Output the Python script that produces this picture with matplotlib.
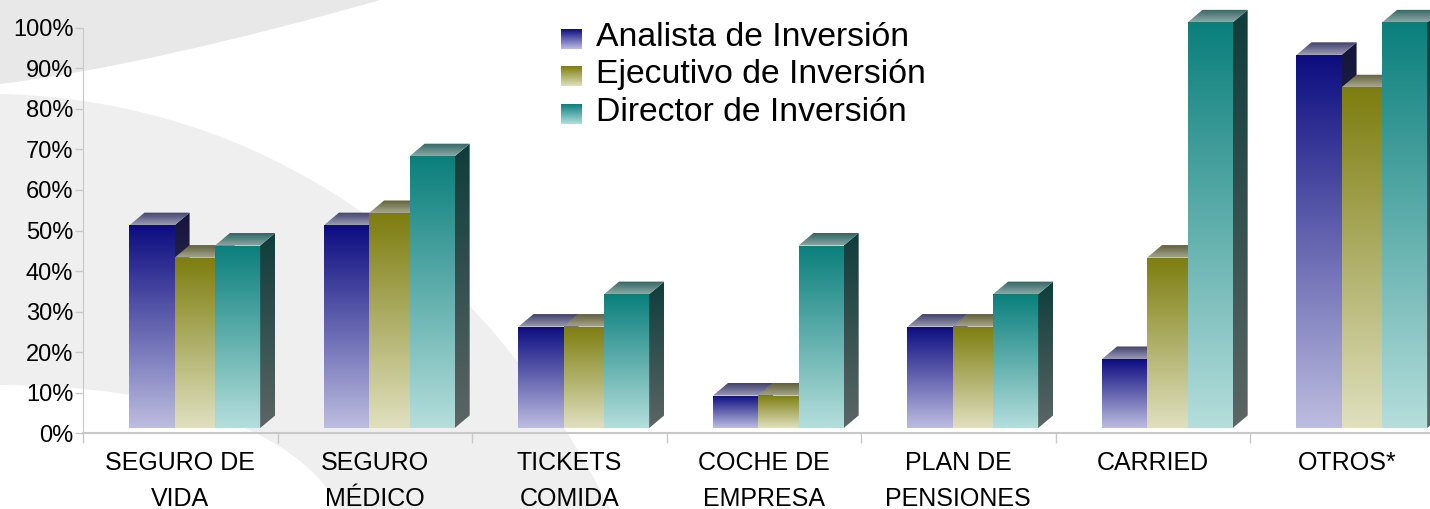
import numpy as np
import matplotlib
matplotlib.use('Agg')
import matplotlib.pyplot as plt
from matplotlib.patches import Polygon, PathPatch
from matplotlib.path import Path
from matplotlib.colors import LinearSegmentedColormap

plt.rcParams['font.family'] = ['Liberation Sans', 'DejaVu Sans']

# data (percent of respondents)
categories = ['SEGURO DE\nVIDA', 'SEGURO\nMÉDICO', 'TICKETS\nCOMIDA', 'COCHE DE\nEMPRESA',
              'PLAN DE\nPENSIONES', 'CARRIED', 'OTROS*']
series = ['Analista de Inversión', 'Ejecutivo de Inversión', 'Director de Inversión']
analista = [50, 50, 25, 8, 25, 17, 92]
ejecutivo = [42, 53, 25, 8, 25, 42, 84]
director = [45, 67, 33, 45, 33, 100, 100]
yticks = [0, 10, 20, 30, 40, 50, 60, 70, 80, 90, 100]

# (front top, front bottom), (side top, side bottom), (roof back, roof front)
STYLE = [
    (('#0c0c80', '#bdbde0'), ('#14143c', '#555570'), ('#40406e', '#9c9cb4')),
    (('#7d7d0f', '#e0e0c0'), ('#3e3e10', '#60604c'), ('#60603a', '#a8a890')),
    (('#0a7f7c', '#b5dedc'), ('#0e3d3b', '#5c6665'), ('#2e6664', '#90a8a6')),
]
OFF = [0.239, 0.471, 0.679]   # left edge of each bar inside its group
W = 0.232
DX, DY = 0.077, 3.1           # 3-D depth offsets
FLOOR = 1.3
GRID = '#c8c8c8'

W_PX, H_PX = 1430, 509
fig = plt.figure(figsize=(W_PX / 100, H_PX / 100), dpi=100)
fig.patch.set_facecolor('white')

# ---------------------------------------------------------------- background swoosh
bg = fig.add_axes([0, 0, 1, 1], zorder=0)
bg.set_xlim(0, W_PX)
bg.set_ylim(H_PX, 0)
bg.axis('off')
C, L, M, Z = Path.CURVE4, Path.LINETO, Path.MOVETO, Path.CLOSEPOLY
band1 = Path([(0, 0), (380, 0), (240, 40), (100, 72), (0, 84), (0, 0)],
             [M, L, C, C, C, Z])
band2 = Path([(0, 94), (260, 100), (480, 250), (610, 509), (340, 509),
              (300, 430), (170, 385), (0, 385), (0, 94)],
             [M, C, C, C, L, C, C, C, Z])
bg.add_patch(PathPatch(band1, fc='#e8e8e8', ec='none'))
bg.add_patch(PathPatch(band2, fc='#efefef', ec='none'))


def gradient(ax, clip, x0, x1, y_lo, y_hi, c_lo, c_hi, z):
    cmap = LinearSegmentedColormap.from_list('g', [c_lo, c_hi])
    im = ax.imshow(np.linspace(0, 1, 256).reshape(-1, 1), cmap=cmap,
                   extent=(x0, x1, y_lo, y_hi), origin='lower', aspect='auto',
                   interpolation='bilinear', zorder=z)
    if clip is not None:
        im.set_clip_path(clip)
    return im


# ---------------------------------------------------------------- main axes
YTOP = 433.3 / 4.056
ax = fig.add_axes([83 / W_PX, (H_PX - 433.3) / H_PX, 7 * 194.5 / W_PX, 433.3 / H_PX], zorder=1)
ax.set_facecolor('none')

z = 2.0
for g in range(len(categories)):
    for j, vals in enumerate([analista, ejecutivo, director]):
        (f_hi, f_lo), (s_hi, s_lo), (r_back, r_front) = STYLE[j]
        v = vals[g]
        bar = ax.bar(g + OFF[j], v, width=W, bottom=FLOOR, align='edge',
                     color='none', edgecolor='none', zorder=z)[0]
        xl = bar.get_x()
        xr = xl + bar.get_width()
        top = FLOOR + bar.get_height()
        gradient(ax, bar, xl, xr, FLOOR, top, f_lo, f_hi, z)
        z += 0.01
        side = Polygon([(xr, FLOOR), (xr + DX, FLOOR + DY), (xr + DX, top + DY), (xr, top)],
                       closed=True, fc='none', ec='none', zorder=z)
        ax.add_patch(side)
        gradient(ax, side, xr, xr + DX, FLOOR, top + DY, s_lo, s_hi, z)
        z += 0.01
        roof = Polygon([(xl, top), (xr, top), (xr + DX, top + DY), (xl + DX, top + DY)],
                       closed=True, fc='none', ec='none', zorder=z)
        ax.add_patch(roof)
        gradient(ax, roof, xl, xr + DX, top, top + DY, r_front, r_back, z)
        z += 0.01

ax.set_xlim(0, len(categories))
ax.set_ylim(0, YTOP)

for s in ('top', 'right'):
    ax.spines[s].set_visible(False)
ax.spines['left'].set_bounds(0, 100)
ax.spines['left'].set_color(GRID)
ax.spines['bottom'].set_color(GRID)
ax.spines['bottom'].set_linewidth(1.5)

ax.set_yticks(yticks)
ax.set_yticklabels([f'{t}%' for t in yticks], fontsize=17)
ax.tick_params(axis='y', length=6, width=1, color=GRID, pad=1)

ax.set_xticks(np.arange(len(categories) + 1))
ax.set_xticklabels([])
ax.set_xticks(np.arange(len(categories)) + 0.5, minor=True)
ax.set_xticklabels(categories, minor=True, fontsize=18, linespacing=1.6)
ax.tick_params(axis='x', which='major', length=7, width=1, color=GRID)
ax.tick_params(axis='x', which='minor', length=0, pad=13)

# ---------------------------------------------------------------- legend
lg = fig.add_axes([0, 0, 1, 1], zorder=3)
lg.set_xlim(0, W_PX)
lg.set_ylim(H_PX, 0)
lg.axis('off')
for j, name in enumerate(series):
    (f_hi, f_lo), _, _ = STYLE[j]
    y0 = 28.5 + 37.5 * j
    gradient(lg, None, 561, 582, y0 + 20, y0, f_lo, f_hi, 4)
    lg.text(596, 46 + 37.3 * j, name, fontsize=24.3, va='baseline', ha='left')
lg.set_xlim(0, W_PX)
lg.set_ylim(H_PX, 0)

fig.savefig('out.png', dpi=100)
